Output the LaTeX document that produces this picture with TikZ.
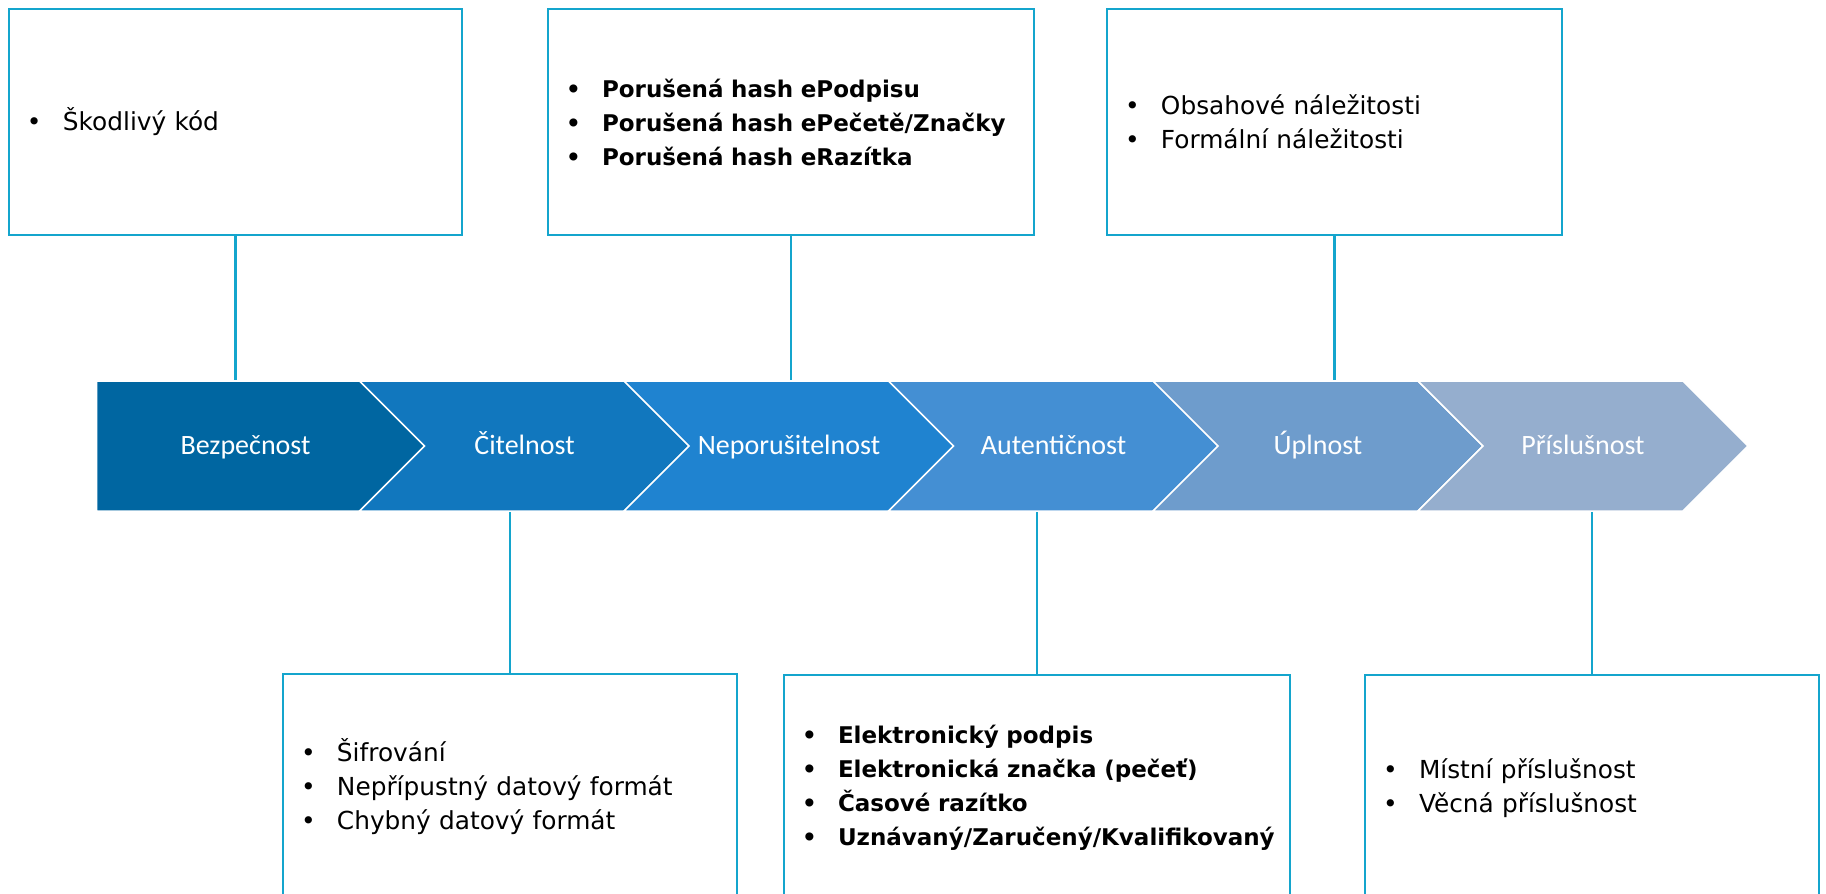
\documentclass[tikz,border=0pt]{standalone}
\usepackage{fontspec}
\setmainfont{DejaVu Sans}
\newfontfamily\stepfont{Carlito}
\usepackage{xcolor}
\usetikzlibrary{shapes.symbols}
\definecolor{framecolor}{RGB}{20,165,205}
\definecolor{stepone}{RGB}{0,102,161}
\definecolor{steptwo}{RGB}{17,119,190}
\definecolor{stepthree}{RGB}{31,131,208}
\definecolor{stepfour}{RGB}{68,143,211}
\definecolor{stepfive}{RGB}{110,156,204}
\definecolor{stepsix}{RGB}{149,174,206}
\newcommand{\bulletitem}{\makebox[36pt][l]{•}}

\begin{document}
\begin{tikzpicture}[
      % GLOBAL CFG
      x=1pt, y=-1pt,
      % Styles
      stepbox/.style={% For the process steps
        signal,
        signal to=east,
        signal pointer angle=90,
        draw=white,
        line width=1.5pt,
        minimum height=130pt,
        minimum width=330pt,
        inner sep=0pt,
        text height=20pt,
        text depth=4pt,
        text=white,
        font=\stepfont\fontsize{28}{30}\selectfont
      },
      nextstep/.style={% Steps with a notch
        stepbox,
        signal from=west
      },
      listbox/.style={% For the lists of checks
        rectangle,
        draw=framecolor,
        line width=2.6pt,
        minimum height=226pt,
        inner xsep=18pt,
        align=left,
        font=\fontsize{24.8}{34}\selectfont
      },
      boldlist/.style={
        listbox,
        font=\bfseries\fontsize{23}{34}\selectfont
      },
      link/.style={
        draw=framecolor,
        line width=2.6pt
      }
      ]

      \clip (0,0) rectangle (1826,894);

      % Draw the steps:
      \node [stepbox, minimum width=363pt, fill=stepone] (step1) at (245.5,446){Bezpečnost} ;
      \node [nextstep, fill=steptwo] (step2) at (524.5,446){Čitelnost} ;
      \node [nextstep, fill=stepthree] (step3) at (789,446){Neporušitelnost} ;
      \node [nextstep, fill=stepfour] (step4) at (1053.5,446){Autentičnost} ;
      \node [nextstep, fill=stepfive] (step5) at (1318,446){Úplnost} ;
      \node [nextstep, fill=stepsix] (step6) at (1583,446){Příslušnost} ;

      % Lists above the steps
      \node [listbox, text width=417pt] (note1) at (235.5,122){\bulletitem Škodlivý kód} ;
      \node [boldlist, text width=450pt] (note3) at (791,122){\bulletitem Porušená hash ePodpisu\\
        \bulletitem Porušená hash ePečetě/Značky\\
        \bulletitem Porušená hash eRazítka} ;
      \node [listbox, text width=419pt] (note5) at (1334.5,122){\bulletitem Obsahové náležitosti\\
        \bulletitem Formální náležitosti} ;

      % Lists below the steps
      \node [listbox, text width=418pt] (note2) at (510,787){\bulletitem Šifrování\\
        \bulletitem Nepřípustný datový formát\\
        \bulletitem Chybný datový formát} ;
      \node [boldlist, text width=470pt] (note4) at (1037,788){\bulletitem Elektronický podpis\\
        \bulletitem Elektronická značka (pečeť)\\
        \bulletitem Časové razítko\\
        \bulletitem Uznávaný/Zaručený/Kvalifikovaný} ;
      \node [listbox, text width=418pt] (note6) at (1592,788){\bulletitem Místní příslušnost\\
        \bulletitem Věcná příslušnost} ;

      \draw [link] (note1.south) -- (note1.south |- step1.north);
      \draw [link] (note3.south) -- (note3.south |- step3.north);
      \draw [link] (note5.south) -- (note5.south |- step5.north);

      \draw [link] (note2.north) -- (note2.north |- step2.south);
      \draw [link] (note4.north) -- (note4.north |- step4.south);
      \draw [link] (note6.north) -- (note6.north |- step6.south);
    \end{tikzpicture}
\end{document}
